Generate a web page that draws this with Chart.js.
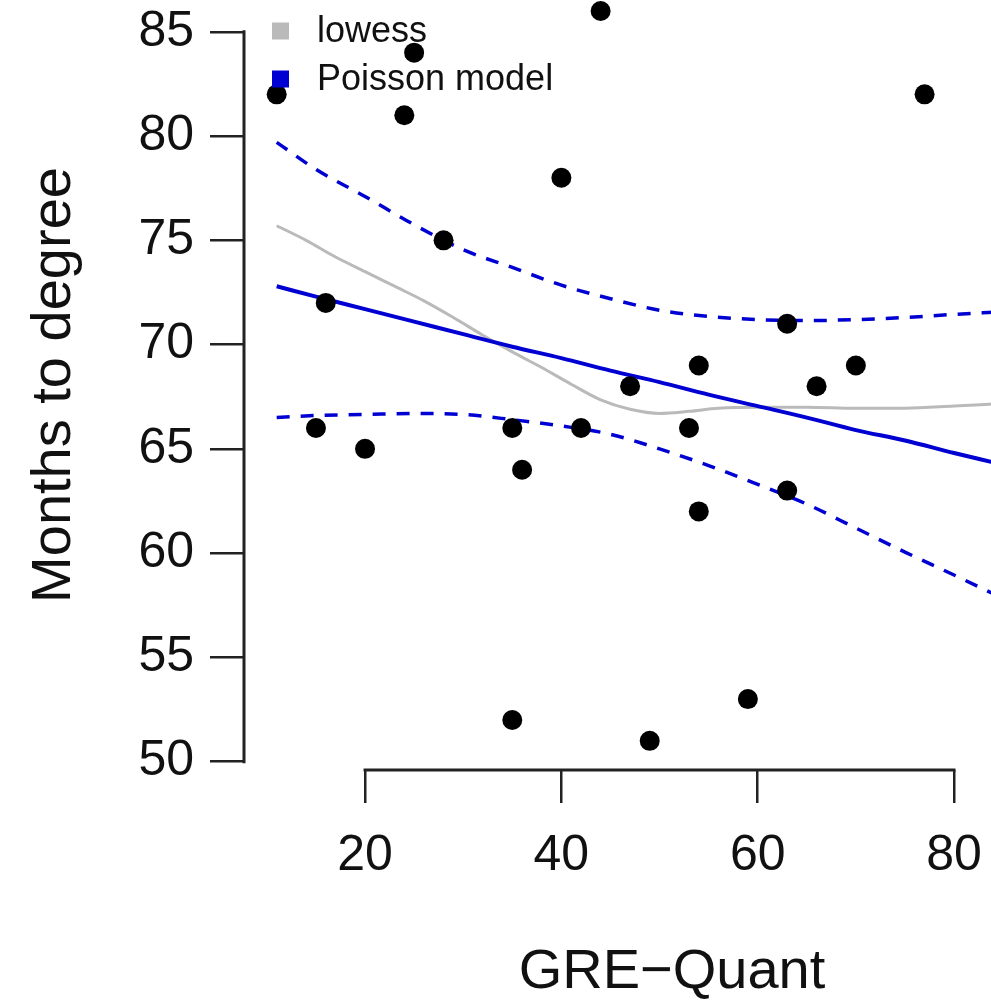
<!DOCTYPE html>
<html>
<head>
<meta charset="utf-8">
<title>Months to degree vs GRE-Quant</title>
<script src="https://cdn.jsdelivr.net/npm/chart.js@4"></script>
<style>
  html, body { margin: 0; padding: 0; overflow: hidden; background: #fff; }
  canvas { display: block; }
</style>
</head>
<body>
<canvas id="greChart" width="1100" height="1001"></canvas>
<script>
// Observed students: GRE-Quant score vs months to degree
const greQuant = [11, 15, 16, 20, 24, 25, 28, 35, 35, 36, 40, 44, 42, 47, 49, 53, 54, 54, 59, 63, 63, 66, 70, 77];
const monthsToDegree = [82, 66, 72, 65, 81, 84, 75, 52, 66, 64, 78, 86, 66, 68, 51, 66, 69, 62, 53, 71, 63, 68, 69, 82];

// lowess smooth
const lowessX = [11, 14, 17, 20, 23, 26, 29, 32, 35, 38, 41, 44, 47, 50, 53, 56, 60, 65, 70, 75, 80, 84];
const lowessY = [75.7, 75.0, 74.2, 73.5, 72.8, 72.1, 71.3, 70.45, 69.65, 68.9, 68.1, 67.35, 66.9, 66.7, 66.8, 66.95, 67.0, 67.0, 66.95, 66.95, 67.05, 67.15];

// Poisson model fit and its confidence band
const fitX = [11, 15, 20, 25, 30, 35, 40, 45, 50, 55, 60, 65, 70, 75, 80, 84];
const fitY = [72.8, 72.3, 71.7, 71.1, 70.5, 69.9, 69.35, 68.75, 68.2, 67.6, 67.05, 66.5, 65.9, 65.4, 64.8, 64.35];
const upperY = [79.7, 78.4, 77.1, 75.75, 74.55, 73.7, 72.85, 72.2, 71.65, 71.35, 71.2, 71.15, 71.2, 71.3, 71.45, 71.55];
const lowerY = [66.5, 66.6, 66.65, 66.7, 66.65, 66.4, 66.1, 65.7, 65.0, 64.2, 63.3, 62.35, 61.2, 60.05, 58.95, 58.05];

const xTicks = [20, 40, 60, 80];
const yTicks = [50, 55, 60, 65, 70, 75, 80, 85];

const FONT = "'Liberation Sans', Arial, Helvetica, sans-serif";
const AXIS_COLOR = "#222";
const BLUE = "#0000d2";
const GREY = "#bababa";

const pairs = (xs, ys) => xs.map((x, i) => ({ x: x, y: ys[i] }));

// R-style axis lines that only span the first..last tick
const rAxes = {
  id: "rAxes",
  afterDatasetsDraw(chart) {
    const { ctx, chartArea, scales } = chart;
    const xs = scales.x, ys = scales.y;
    ctx.save();
    ctx.strokeStyle = AXIS_COLOR;
    ctx.lineWidth = 3;
    ctx.lineCap = "square";
    ctx.beginPath();
    ctx.moveTo(chartArea.left, ys.getPixelForValue(yTicks[0]));
    ctx.lineTo(chartArea.left, ys.getPixelForValue(yTicks[yTicks.length - 1]));
    ctx.moveTo(xs.getPixelForValue(xTicks[0]), chartArea.bottom);
    ctx.lineTo(xs.getPixelForValue(xTicks[xTicks.length - 1]), chartArea.bottom);
    ctx.stroke();
    ctx.restore();
  }
};

// small filled-square legend in the top left corner of the plot
const cornerLegend = {
  id: "cornerLegend",
  afterDraw(chart) {
    const { ctx, chartArea } = chart;
    const items = chart.data.datasets
      .filter(ds => ds.legendRank !== undefined)
      .sort((a, b) => a.legendRank - b.legendRank);
    ctx.save();
    ctx.font = "36px " + FONT;
    ctx.textBaseline = "middle";
    items.forEach((ds, i) => {
      const cy = 31 + i * 48;
      ctx.fillStyle = ds.borderColor;
      ctx.fillRect(chartArea.left + 28, cy - 8.5, 17, 17);
      ctx.fillStyle = "#111";
      ctx.fillText(ds.label, chartArea.left + 73, cy + 1);
    });
    ctx.restore();
  }
};

// keep the plot region fixed: no extra room for overhanging tick labels
const noLabelPadding = scale => {
  scale.paddingTop = 0;
  scale.paddingBottom = 0;
  scale.paddingLeft = 0;
  scale.paddingRight = 0;
};

const ctx = document.getElementById("greChart").getContext("2d");

new Chart(ctx, {
  type: "scatter",
  data: {
    datasets: [
      {
        label: "students",
        data: pairs(greQuant, monthsToDegree),
        backgroundColor: "#000",
        borderWidth: 0,
        pointRadius: 10,
        pointHoverRadius: 10,
        clip: false
      },
      {
        label: "Poisson model",
        legendRank: 1,
        data: pairs(fitX, fitY),
        showLine: true,
        borderColor: BLUE,
        borderWidth: 4,
        pointRadius: 0,
        cubicInterpolationMode: "monotone"
      },
      {
        label: "upper",
        data: pairs(fitX, upperY),
        showLine: true,
        borderColor: BLUE,
        borderWidth: 3.5,
        borderDash: [13, 11],
        pointRadius: 0,
        cubicInterpolationMode: "monotone"
      },
      {
        label: "lower",
        data: pairs(fitX, lowerY),
        showLine: true,
        borderColor: BLUE,
        borderWidth: 3.5,
        borderDash: [13, 11],
        pointRadius: 0,
        cubicInterpolationMode: "monotone"
      },
      {
        label: "lowess",
        legendRank: 0,
        data: pairs(lowessX, lowessY),
        showLine: true,
        borderColor: GREY,
        borderWidth: 3,
        pointRadius: 0,
        cubicInterpolationMode: "monotone"
      }
    ]
  },
  options: {
    responsive: false,
    animation: false,
    events: [],
    layout: { padding: 0, autoPadding: false },
    plugins: {
      legend: { display: false },
      tooltip: { enabled: false }
    },
    scales: {
      x: {
        type: "linear",
        min: 7.67,
        max: 94.87,
        afterBuildTicks: scale => { scale.ticks = xTicks.map(v => ({ value: v })); },
        afterFit: scale => { scale.height = 231; noLabelPadding(scale); },
        border: { display: false },
        grid: {
          drawOnChartArea: false,
          drawTicks: true,
          tickLength: 33,
          lineWidth: 2.5,
          color: AXIS_COLOR
        },
        ticks: {
          color: "#111",
          padding: 23,
          maxRotation: 0,
          font: { family: FONT, size: 50 }
        },
        title: {
          display: true,
          text: "GRE\u2212Quant",
          color: "#111",
          padding: { top: 0, bottom: 0 },
          font: { family: FONT, size: 56, lineHeight: 1 }
        }
      },
      y: {
        type: "linear",
        min: 49.6,
        max: 86.525,
        afterBuildTicks: scale => { scale.ticks = yTicks.map(v => ({ value: v })); },
        afterFit: scale => { scale.width = 244; noLabelPadding(scale); },
        border: { display: false },
        grid: {
          drawOnChartArea: false,
          drawTicks: true,
          tickLength: 34,
          lineWidth: 2.5,
          color: AXIS_COLOR
        },
        ticks: {
          color: "#111",
          padding: 16,
          font: { family: FONT, size: 50 }
        },
        title: {
          display: true,
          text: "Months to degree",
          color: "#111",
          padding: { top: 27, bottom: 0 },
          font: { family: FONT, size: 56, lineHeight: 1 }
        }
      }
    }
  },
  plugins: [rAxes, cornerLegend]
});
</script>
</body>
</html>
